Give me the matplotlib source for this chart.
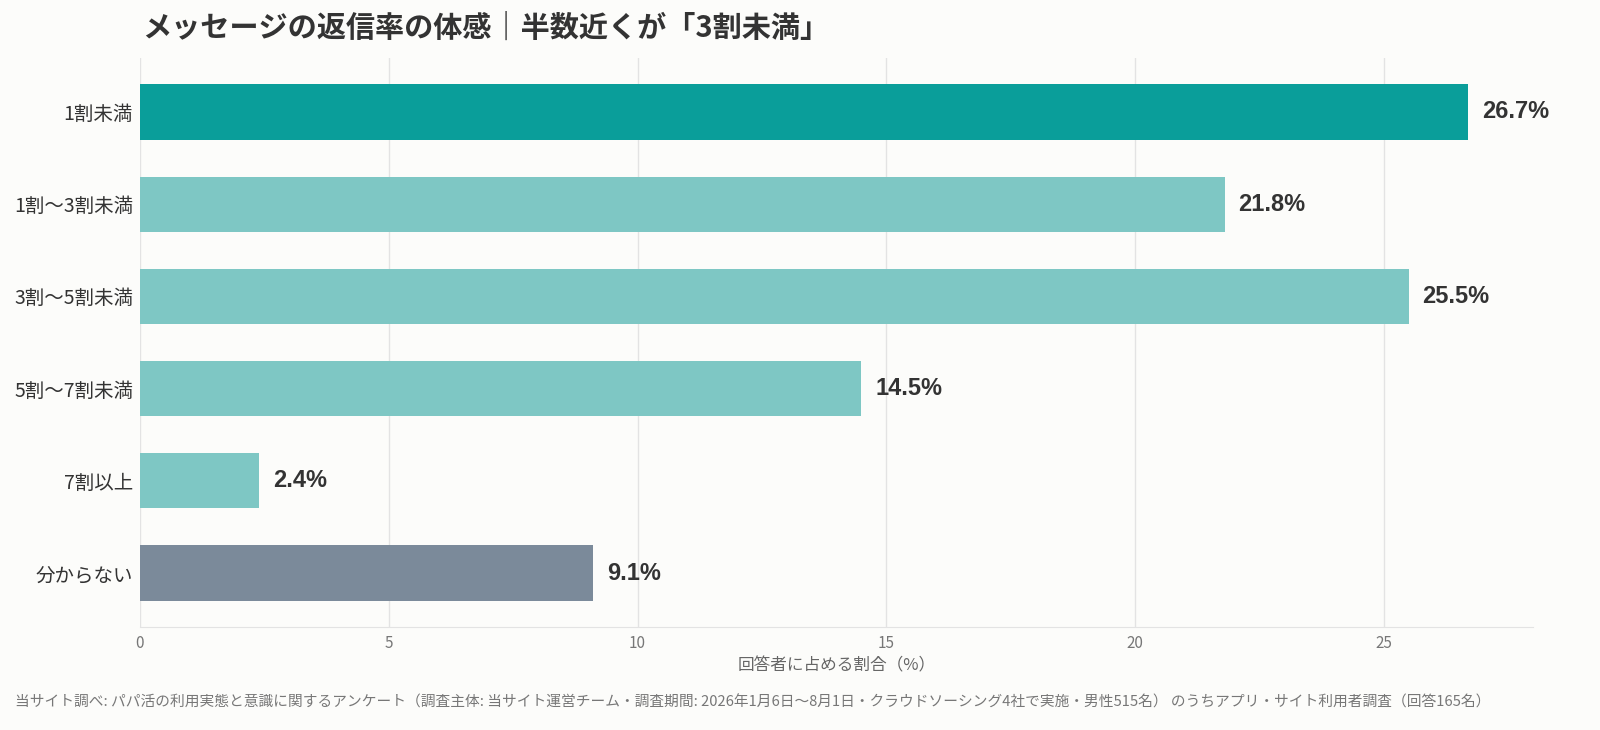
import matplotlib
matplotlib.use("Agg")
import matplotlib.pyplot as plt

plt.rcParams['font.family'] = ['Noto Sans CJK JP', 'DejaVu Sans']

# データ
categories = ["1割未満", "1割〜3割未満", "3割〜5割未満", "5割〜7割未満", "7割以上", "分からない"]
values = [26.7, 21.8, 25.5, 14.5, 2.4, 9.1]
colors = ["#0a9e9a", "#7ec7c4", "#7ec7c4", "#7ec7c4", "#7ec7c4", "#7b8a9a"]

title = "メッセージの返信率の体感｜半数近くが「3割未満」"
xlabel = "回答者に占める割合（%）"
note = ("当サイト調べ: パパ活の利用実態と意識に関するアンケート（調査主体: 当サイト運営チーム・調査期間: "
        "2026年1月6日〜8月1日・クラウドソーシング4社で実施・男性515名） のうちアプリ・サイト利用者調査（回答165名）")

bg = "#fcfcfa"
fig = plt.figure(figsize=(16, 7.3), dpi=100, facecolor=bg)
ax = fig.add_axes([140 / 1600, 1 - 627 / 730, 1393 / 1600, 569 / 730])
ax.set_facecolor(bg)

y = list(range(len(categories)))
ax.barh(y, values, height=0.6, color=colors, zorder=3)

# 値ラベル
for yi, v in zip(y, values):
    ax.text(v + 0.28, yi, f"{v}%", va="center", ha="left", fontsize=17,
            fontweight="bold", color="#333333", zorder=4,
            family=["Liberation Sans", "DejaVu Sans"])

ax.set_xlim(0, 28.0)
ax.set_ylim(5.585, -0.585)
ax.set_yticks(y)
ax.set_yticklabels(categories, fontsize=14, color="#333333")
ax.set_xticks([0, 5, 10, 15, 20, 25])
ax.tick_params(axis="x", labelsize=11, colors="#777777", length=0, pad=6)
ax.tick_params(axis="y", length=0, pad=5)
ax.grid(axis="x", color="#e3e3e3", linewidth=1, zorder=0)
for s in ["top", "right", "left"]:
    ax.spines[s].set_visible(False)
ax.spines["bottom"].set_color("#e3e3e3")
ax.set_xlabel(xlabel, fontsize=12, color="#666666", labelpad=4)

fig.text(142 / 1600, 1 - 28 / 730, title, fontsize=21, fontweight="bold",
         color="#333333", va="center", ha="left")
fig.text(15 / 1600, 1 - 702 / 730, note, fontsize=10.6, color="#777777",
         va="center", ha="left")

fig.savefig("out.png", dpi=100, facecolor=bg)
